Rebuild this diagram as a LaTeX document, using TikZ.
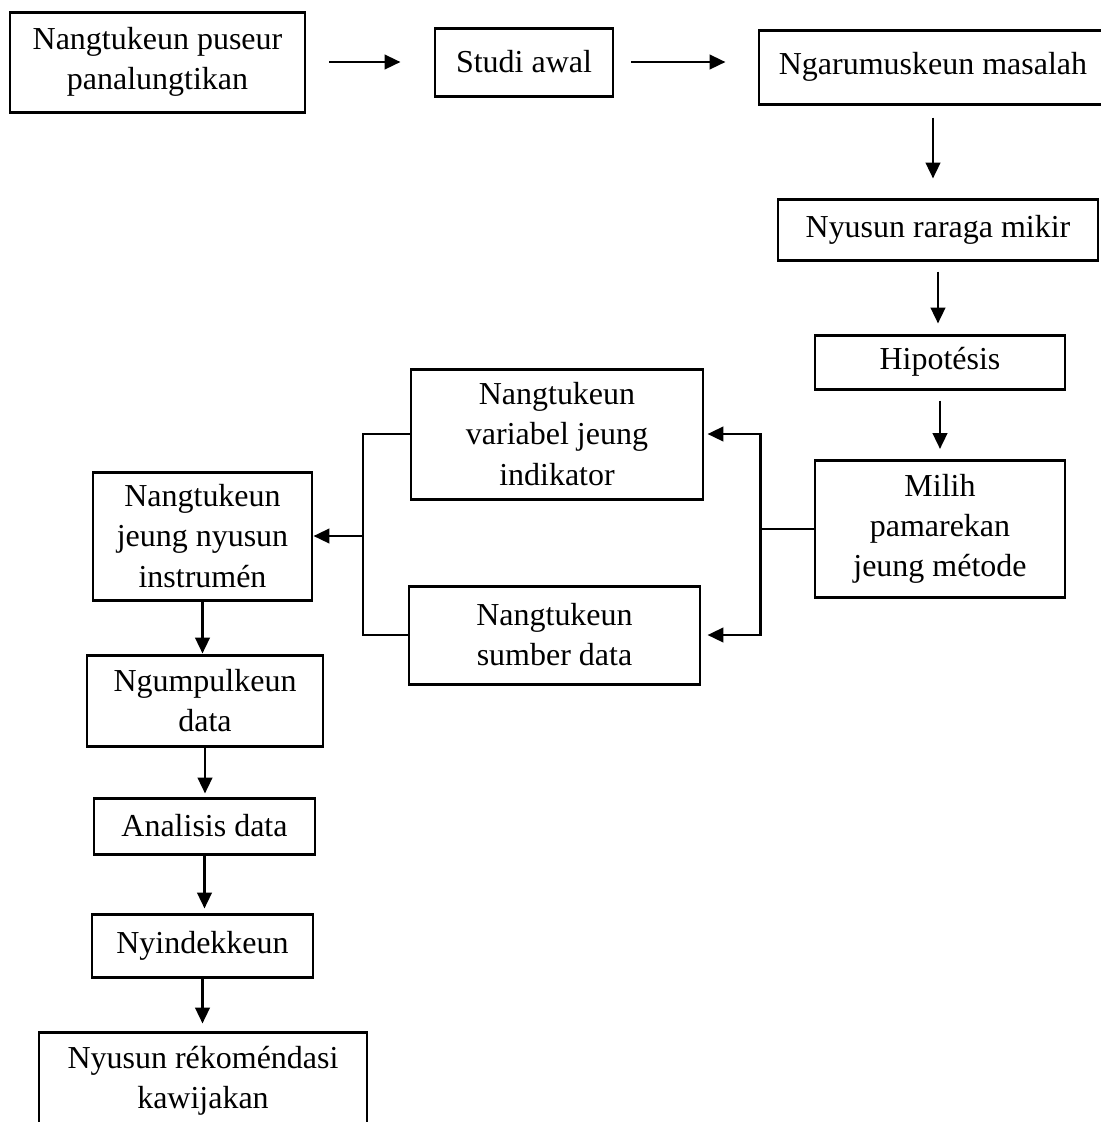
\documentclass[tikz,border=0pt]{standalone}
\usepackage{fontspec}
\setmainfont{Liberation Serif}
\usetikzlibrary{arrows.meta,positioning}

\begin{document}
\begin{tikzpicture}[
  font=\fontsize{9.1pt}{11.4pt}\selectfont,
  box/.style={draw, line width=0.85pt, align=center, inner sep=0pt},
  arr/.style={-{Triangle[length=1.6mm, width=1.45mm]}, line width=0.8pt}
]
\useasboundingbox (0,0) rectangle (11.01,-11.22);
\clip (0,0) rectangle (11.01,-11.22);
\node[box, minimum width=2.95cm, minimum height=1.00cm] (puseur) at (1.575,-0.62) {Nangtukeun puseur\\panalungtikan};
\node[box, minimum width=1.78cm, minimum height=0.68cm] (studi) at (5.24,-0.62) {Studi awal};
\node[box, minimum width=3.48cm, minimum height=0.74cm] (masalah) at (9.33,-0.67) {Ngarumuskeun masalah};
\node[box, minimum width=3.20cm, minimum height=0.61cm] (raraga) at (9.38,-2.295) {Nyusun raraga mikir};
\node[box, minimum width=2.50cm, minimum height=0.54cm] (hipo) at (9.40,-3.62) {Hipotésis};
\node[box, minimum width=2.50cm, minimum height=1.37cm] (milih) at (9.40,-5.29) {Milih\\pamarekan\\jeung métode};
\node[box, minimum width=2.92cm, minimum height=1.30cm] (variabel) at (5.57,-4.34) {Nangtukeun\\variabel jeung\\indikator};
\node[box, minimum width=2.91cm, minimum height=0.98cm] (sumber) at (5.545,-6.35) {Nangtukeun\\sumber data};
\node[box, minimum width=2.19cm, minimum height=1.28cm] (instr) at (2.025,-5.36) {Nangtukeun\\jeung nyusun\\instrumén};
\node[box, minimum width=2.36cm, minimum height=0.91cm] (kumpul) at (2.05,-7.005) {Ngumpulkeun\\data};
\node[box, minimum width=2.21cm, minimum height=0.56cm] (analisis) at (2.045,-8.26) {Analisis data};
\node[box, minimum width=2.21cm, minimum height=0.63cm] (nyindek) at (2.025,-9.455) {Nyindekkeun};
\node[box, minimum width=3.28cm, minimum height=0.98cm] (rekom) at (2.03,-10.81) {Nyusun rékoméndasi\\kawijakan};
\coordinate[left=0.53cm of milih.west] (jr);
\coordinate (jl) at (3.63,-5.36);
\draw[arr, shorten <=0.23cm, shorten >=0.33cm] (puseur.east) -- (studi.west);
\draw[arr, shorten <=0.17cm, shorten >=0.32cm] (studi.east) -- (studi.east -| masalah.west);
\draw[arr, shorten <=0.12cm, shorten >=0.19cm] (masalah.south) -- (masalah.south |- raraga.north);
\draw[arr, shorten <=0.10cm, shorten >=0.10cm] (raraga.south) -- (raraga.south |- hipo.north);
\draw[arr, shorten <=0.10cm, shorten >=0.10cm] (hipo.south) -- (milih.north);
\draw[line width=0.8pt] (milih.west) -- (jr);
\draw[arr, shorten >=0.03cm] (jr) |- (variabel.east);
\draw[arr, shorten >=0.06cm] (jr) |- (sumber.east);
\draw[line width=0.8pt] (variabel.west) -| (jl) |- (sumber.west);
\draw[arr] (jl) -- (instr.east);
\draw[arr] (instr.south) -- (instr.south |- kumpul.north);
\draw[arr, shorten >=0.03cm] (kumpul.south) -- (kumpul.south |- analisis.north);
\draw[arr, shorten >=0.04cm] (analisis.south) -- (analisis.south |- nyindek.north);
\draw[arr, shorten >=0.07cm] (nyindek.south) -- (nyindek.south |- rekom.north);
\end{tikzpicture}
\end{document}
